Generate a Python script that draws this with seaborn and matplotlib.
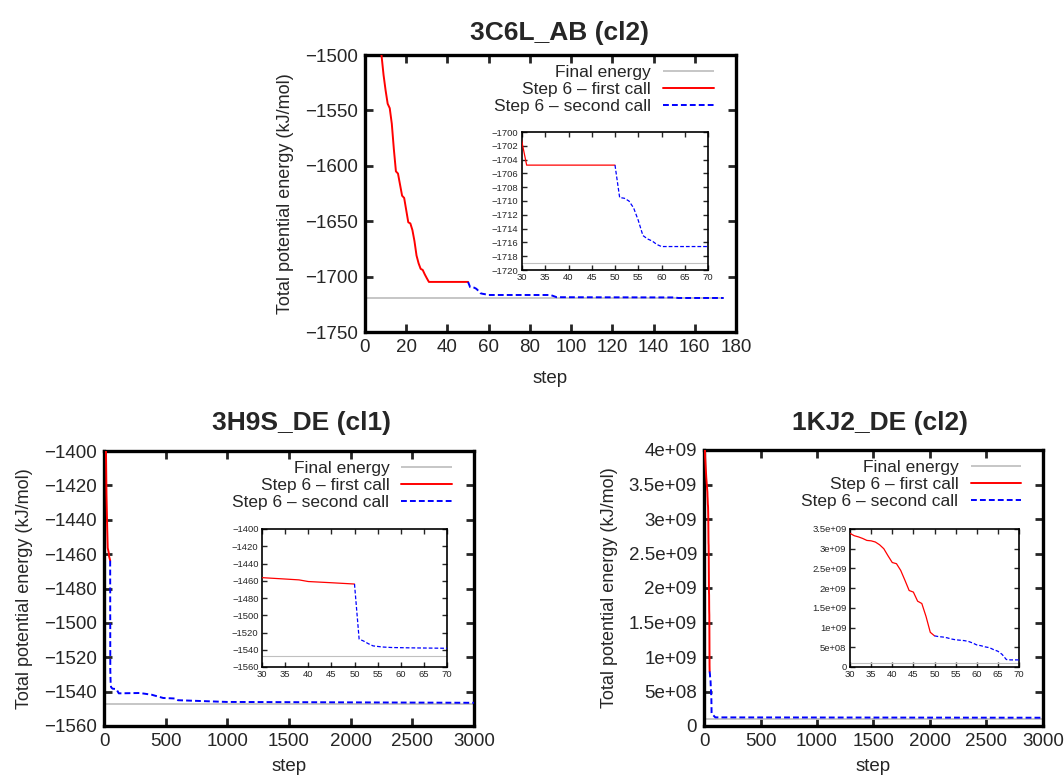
import numpy as np
import pandas as pd
import matplotlib
matplotlib.use("Agg")
import matplotlib.pyplot as plt
from matplotlib.ticker import FuncFormatter, MultipleLocator
import seaborn as sns

# ---------------- data ----------------
# Panel A: 3C6L_AB (cl2)
a_first_steps = [0, 2, 4, 6, 8, 9, 10, 11, 12, 13, 14, 15, 16, 17, 18, 19, 20, 21, 22, 23, 24,
                 25, 26, 27, 28, 29, 30, 31, 40, 50]
a_first_vals = [-1300, -1380, -1440, -1480, -1500, -1518, -1532, -1544, -1548, -1562, -1585, -1605,
                -1607, -1617, -1627, -1629, -1640, -1651, -1652, -1658, -1668, -1681, -1688, -1693,
                -1694, -1698, -1701.5, -1704.8, -1704.8, -1704.8]
a_second_steps = [50, 51, 52, 53, 54, 55, 56, 57, 58, 59, 60, 75, 90, 93, 120, 150, 152, 174]
a_second_vals = [-1704.8, -1709.5, -1709.6, -1710.0, -1711.0, -1712.8, -1715.0, -1715.5, -1715.8,
                 -1716.3, -1716.6, -1716.6, -1716.6, -1718.6, -1718.7, -1718.8, -1719.3, -1719.3]
a_final = -1719.0

# Panel B: 3H9S_DE (cl1)
b_first_steps = [0, 10, 16, 20, 25, 30, 35, 38, 40, 45, 50]
b_first_vals = [-1250, -1350, -1400, -1425, -1442, -1456.4, -1458, -1459, -1460.9, -1462.3, -1463.8]
b_second_steps = [50, 51, 52, 53, 54, 56, 58, 62, 70, 100, 120, 290, 386, 480, 575, 600, 995, 3000]
b_second_vals = [-1463.8, -1527.6, -1530, -1533, -1535.5, -1536.8, -1537.4, -1537.8, -1538.3,
                 -1538.5, -1541, -1540.8, -1541.8, -1543.7, -1544, -1545, -1546, -1546.5]
b_final = -1547.3

# Panel C: 1KJ2_DE (cl2)
c_first_steps = [0, 10, 20, 30, 31, 32, 33, 34, 35, 36, 37, 38, 39, 40, 41, 42, 43, 44, 45, 46,
                 47, 48, 49, 50]
c_first_vals = [4.6e9, 3.9e9, 3.6e9, 3.39e9, 3.33e9, 3.30e9, 3.26e9, 3.21e9, 3.20e9, 3.17e9,
                3.10e9, 3.00e9, 2.82e9, 2.65e9, 2.62e9, 2.45e9, 2.20e9, 1.94e9, 1.90e9, 1.67e9,
                1.61e9, 1.28e9, 0.88e9, 0.79e9]
c_second_steps = [50, 51, 52, 53, 54, 55, 56, 57, 58, 59, 60, 61, 62, 63, 64, 65, 66, 67, 68, 70,
                  80, 100, 3000]
c_second_vals = [0.79e9, 0.77e9, 0.76e9, 0.74e9, 0.71e9, 0.69e9, 0.68e9, 0.67e9, 0.65e9, 0.61e9,
                 0.56e9, 0.54e9, 0.51e9, 0.49e9, 0.44e9, 0.40e9, 0.32e9, 0.19e9, 0.18e9, 0.18e9,
                 0.16e9, 0.125e9, 0.12e9]
c_final = 1.05e8

titles = ["3C6L_AB (cl2)", "3H9S_DE (cl1)", "1KJ2_DE (cl2)"]
legend_labels = ["Final energy", "Step 6 \u2013 first call", "Step 6 \u2013 second call"]
xlabel = "step"
ylabel = "Total potential energy (kJ/mol)"

# ---------------- style ----------------
sns.set_style("ticks")
plt.rcParams['font.family'] = ['Liberation Sans', 'DejaVu Sans']
plt.rcParams['xtick.direction'] = 'in'
plt.rcParams['ytick.direction'] = 'in'

RED = "#ff0000"
BLUE = "#0000ff"
GREY = "#c0c0c0"
DASH = (0, (3, 1.6))

W, H = 1064, 778
fig = plt.figure(figsize=(W / 100, H / 100), dpi=100)


def rect(l, t, r, b):
    return [l / W, (H - b) / H, (r - l) / W, (b - t) / H]


def gformat(v, pos):
    if v == 0:
        return "0"
    return "%g" % v


def draw(ax, fs, fv, ss, sv, final, lw, inset=False):
    x0 = min(fs)
    x1 = max(ss)
    ax.hlines(final, x0, x1, color=GREY, linewidth=lw * 0.9, label=legend_labels[0], zorder=2)
    sns.lineplot(x=fs, y=fv, ax=ax, color=RED, linewidth=lw, estimator=None, sort=False,
                 label=None if inset else legend_labels[1], legend=False, zorder=3)
    sns.lineplot(x=ss, y=sv, ax=ax, color=BLUE, linewidth=lw, estimator=None, sort=False,
                 linestyle=DASH, label=None if inset else legend_labels[2], legend=False, zorder=3)


def style_main(ax, xpad=10, tick_fs=13.5):
    for s in ax.spines.values():
        s.set_linewidth(2.4)
        s.set_visible(True)
        s.set_color("black")
    ax.tick_params(axis='both', which='both', direction='in', top=True, right=True,
                   length=6, width=2.0, labelsize=tick_fs, pad=5)
    ax.set_xlabel(xlabel, fontsize=13.5, labelpad=xpad)
    ax.set_ylabel(ylabel, fontsize=13, labelpad=8)


def style_inset(ax):
    for s in ax.spines.values():
        s.set_linewidth(1.2)
        s.set_visible(True)
        s.set_color("black")
    ax.tick_params(axis='both', which='both', direction='in', top=True, right=True,
                   length=3.5, width=1.0, labelsize=6.8, pad=2.5)
    ax.set_xlabel("")
    ax.set_ylabel("")
    ax.set_xlim(30, 70)
    ax.xaxis.set_major_locator(MultipleLocator(5))


def add_legend(ax, anchor):
    h, l = ax.get_legend_handles_labels()
    order = [l.index(t) for t in legend_labels]
    ax.legend([h[i] for i in order], [l[i] for i in order], loc='upper right',
              bbox_to_anchor=anchor, frameon=False, markerfirst=False, fontsize=12.5,
              handlelength=2.9, handletextpad=0.7, labelspacing=0.12, borderpad=0,
              borderaxespad=0)


# ---------------- Panel A ----------------
axA = fig.add_axes(rect(365, 55, 736, 332))
draw(axA, a_first_steps, a_first_vals, a_second_steps, a_second_vals, a_final, 1.4)
axA.set_xlim(0, 180)
axA.set_ylim(-1750, -1500)
axA.xaxis.set_major_locator(MultipleLocator(20))
axA.yaxis.set_major_locator(MultipleLocator(50))
style_main(axA)
add_legend(axA, (0.94, 0.965))

insA = fig.add_axes(rect(522, 132, 708, 270))
draw(insA, a_first_steps, a_first_vals, a_second_steps, a_second_vals, a_final, 0.9, inset=True)
style_inset(insA)
insA.set_ylim(-1720, -1700)
insA.yaxis.set_major_locator(MultipleLocator(2))

# ---------------- Panel B ----------------
axB = fig.add_axes(rect(104, 451, 474, 726))
draw(axB, b_first_steps, b_first_vals, b_second_steps, b_second_vals, b_final, 1.4)
axB.set_xlim(0, 3000)
axB.set_ylim(-1560, -1400)
axB.xaxis.set_major_locator(MultipleLocator(500))
axB.yaxis.set_major_locator(MultipleLocator(20))
style_main(axB, xpad=6)
add_legend(axB, (0.94, 0.965))

insB = fig.add_axes(rect(262, 529, 447, 667))
draw(insB, b_first_steps, b_first_vals, b_second_steps, b_second_vals, b_final, 0.9, inset=True)
style_inset(insB)
insB.set_ylim(-1560, -1400)
insB.yaxis.set_major_locator(MultipleLocator(20))

# ---------------- Panel C ----------------
axC = fig.add_axes(rect(704, 450, 1043, 726))
draw(axC, c_first_steps, c_first_vals, c_second_steps, c_second_vals, c_final, 1.4)
axC.set_xlim(0, 3000)
axC.set_ylim(0, 4e9)
axC.xaxis.set_major_locator(MultipleLocator(500))
axC.yaxis.set_major_locator(MultipleLocator(5e8))
axC.yaxis.set_major_formatter(FuncFormatter(gformat))
style_main(axC, xpad=6)
add_legend(axC, (0.935, 0.965))

insC = fig.add_axes(rect(850, 529, 1019, 667))
draw(insC, c_first_steps, c_first_vals, c_second_steps, c_second_vals, c_final, 0.9, inset=True)
style_inset(insC)
insC.set_ylim(0, 3.5e9)
insC.yaxis.set_major_locator(MultipleLocator(5e8))
insC.yaxis.set_major_formatter(FuncFormatter(gformat))

# ---------------- titles ----------------
fig.text(560 / W, 1 - 33 / H, titles[0], ha='center', va='center', fontsize=19, fontweight='bold')
fig.text(301 / W, 1 - 423 / H, titles[1], ha='center', va='center', fontsize=19, fontweight='bold')
fig.text(880 / W, 1 - 423 / H, titles[2], ha='center', va='center', fontsize=19, fontweight='bold')

fig.savefig("out.png", dpi=100)
